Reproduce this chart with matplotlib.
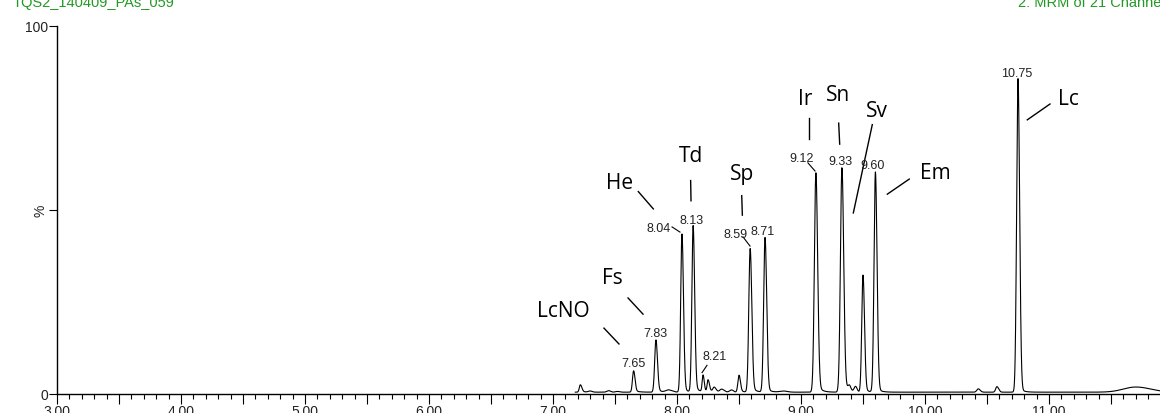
import numpy as np
import matplotlib
matplotlib.use("Agg")
import matplotlib.pyplot as plt
from matplotlib.ticker import MultipleLocator, FuncFormatter

# peak table: retention time (min), height (%), left / right sigma (min), tail height (%)
peak_rt = [7.22, 7.30, 7.45, 7.52, 7.65, 7.83, 7.93, 8.04, 8.13, 8.21, 8.25, 8.30, 8.36,
           8.44, 8.50, 8.59, 8.71, 8.86, 9.12, 9.33, 9.39, 9.44, 9.50, 9.60,
           10.43, 10.58, 10.75, 11.70]
peak_height = [2.0, 0.3, 0.4, 0.2, 5.8, 14.2, 0.6, 43.0, 45.2, 4.5, 3.2, 1.2, 0.8,
               0.6, 4.6, 39.0, 42.0, 0.3, 59.6, 61.0, 1.5, 1.5, 31.8, 59.8,
               0.9, 1.5, 85.2, 1.4]
sigma_left = [0.008, 0.015, 0.015, 0.015, 0.009, 0.010, 0.02, 0.010, 0.010, 0.007, 0.007, 0.010, 0.015,
              0.015, 0.009, 0.011, 0.011, 0.03, 0.012, 0.012, 0.012, 0.012, 0.010, 0.011,
              0.012, 0.010, 0.011, 0.10]
sigma_right = [0.012, 0.015, 0.015, 0.015, 0.011, 0.012, 0.03, 0.012, 0.012, 0.009, 0.010, 0.015, 0.02,
               0.015, 0.011, 0.013, 0.013, 0.03, 0.014, 0.014, 0.012, 0.012, 0.012, 0.013,
               0.015, 0.014, 0.013, 0.12]
tail_height = [0.3, 0, 0, 0, 0.6, 1.0, 0, 1.5, 2.5, 0.5, 0.8, 0, 0,
               0, 0.5, 2.0, 1.5, 0, 3.0, 3.5, 0, 0, 1.2, 1.5,
               0, 0, 1.5, 0]
tail_tau = 0.03
baseline = 0.5

rt_labels = ["7.65", "7.83", "8.04", "8.13", "8.21", "8.59", "8.71", "9.12", "9.33", "9.60", "10.75"]
compounds = ["LcNO", "Fs", "He", "Td", "Sp", "Ir", "Sn", "Sv", "Em", "Lc"]

t = np.linspace(7.18, 11.9, 8000)
y = np.full_like(t, baseline)
for rt, h, sl, sr, th in zip(peak_rt, peak_height, sigma_left, sigma_right, tail_height):
    s = np.where(t < rt, sl, sr)
    y += h * np.exp(-0.5 * ((t - rt) / s) ** 2)
    # exponential tail after the apex, faded in over the peak width
    dx = np.clip(t - rt, 0, None)
    y += th * np.exp(-dx / tail_tau) * (1 - np.exp(-(dx / sr) ** 2))

fig = plt.figure(figsize=(11.6, 4.14), dpi=100)
ax = fig.add_axes([57 / 1160, 19 / 414, 1103 / 1160, 368 / 414])
ax.plot(t, y, color="black", lw=0.8)

ax.set_xlim(3.0, 3.0 + 1103 / 124)
ax.set_ylim(0, 100)
for side in ("top", "right"):
    ax.spines[side].set_visible(False)
ax.spines["left"].set_linewidth(1.0)
ax.spines["bottom"].set_linewidth(1.0)

ax.xaxis.set_major_locator(MultipleLocator(0.5))
ax.xaxis.set_minor_locator(MultipleLocator(0.1))
ax.xaxis.set_major_formatter(FuncFormatter(lambda v, p: "%.2f" % v if abs(v - round(v)) < 1e-6 else ""))
ax.tick_params(axis="x", which="major", length=7, width=0.8, labelsize=10, pad=0.5)
ax.tick_params(axis="x", which="minor", length=3.5, width=0.8)
ax.set_yticks([0, 50, 100])
ax.set_yticklabels(["0", "%", "100"])
ax.tick_params(axis="y", length=5.5, width=0.8, labelsize=10, pad=1)
ax.get_yticklabels()[1].set_rotation(90)
ax.get_yticklabels()[1].set_va("center")
for lbl in ax.get_xticklabels() + ax.get_yticklabels():
    lbl.set_fontfamily("Liberation Sans")
    lbl.set_color("#222222")

# retention time labels: text x, text y, leader line or None
rt_pos = {
    "7.65": (7.645, 8.4, None),
    "7.83": (7.823, 16.6, None),
    "8.04": (7.855, 45.0, ((7.960, 45.4), (8.024, 44.0))),
    "8.13": (8.121, 47.4, None),
    "8.21": (8.306, 10.2, ((8.202, 5.8), (8.242, 7.8))),
    "8.59": (8.476, 43.4, ((8.532, 42.7), (8.589, 40.2))),
    "8.71": (8.694, 44.4, None),
    "9.12": (9.008, 64.0, ((9.056, 62.8), (9.113, 60.6))),
    "9.33": (9.315, 63.2, None),
    "9.60": (9.581, 62.1, None),
    "10.75": (10.742, 87.1, None),
}
for lab in rt_labels:
    xt, yt, lead = rt_pos[lab]
    ax.text(xt, yt, lab, ha="center", va="center", fontsize=9,
            family="Liberation Sans", color="#222222", clip_on=False)
    if lead:
        ax.plot([lead[0][0], lead[1][0]], [lead[0][1], lead[1][1]], color="black", lw=0.8)

# compound names with pointer lines
comp_pos = {
    "LcNO": (7.081, 22.6, (7.411, 17.9), (7.532, 13.6)),
    "Fs": (7.476, 31.7, (7.605, 26.1), (7.726, 21.7)),
    "He": (7.540, 57.5, (7.688, 55.0), (7.809, 50.3)),
    "Td": (8.113, 64.8, (8.110, 58.0), (8.113, 52.5)),
    "Sp": (8.522, 59.8, (8.522, 53.9), (8.527, 48.6)),
    "Ir": (9.032, 80.3, (9.067, 74.9), (9.067, 69.3)),
    "Sn": (9.301, 81.3, (9.304, 73.6), (9.312, 67.9)),
    "Sv": (9.610, 77.0, (9.575, 73.2), (9.422, 49.2)),
    "Em": (10.081, 60.2, (9.873, 58.4), (9.696, 54.3)),
    "Lc": (11.156, 80.2, (11.008, 78.8), (10.825, 74.5)),
}
for name in compounds:
    xt, yt, p0, p1 = comp_pos[name]
    ax.text(xt, yt, name, ha="center", va="center", fontsize=15,
            family="Open Sans", color="black")
    ax.plot([p0[0], p1[0]], [p0[1], p1[1]], color="black", lw=1.0)

green = "#229922"
fig.text(13 / 1160, 1 - 7 / 414, "TQS2_140409_PAs_059", color=green, fontsize=10.5,
         family="Liberation Sans", ha="left", va="baseline")
fig.text(1018 / 1160, 1 - 7 / 414, "2: MRM of 21 Channels ES+", color=green, fontsize=10.5,
         family="Liberation Sans", ha="left", va="baseline")

fig.savefig("out.png", dpi=100)
